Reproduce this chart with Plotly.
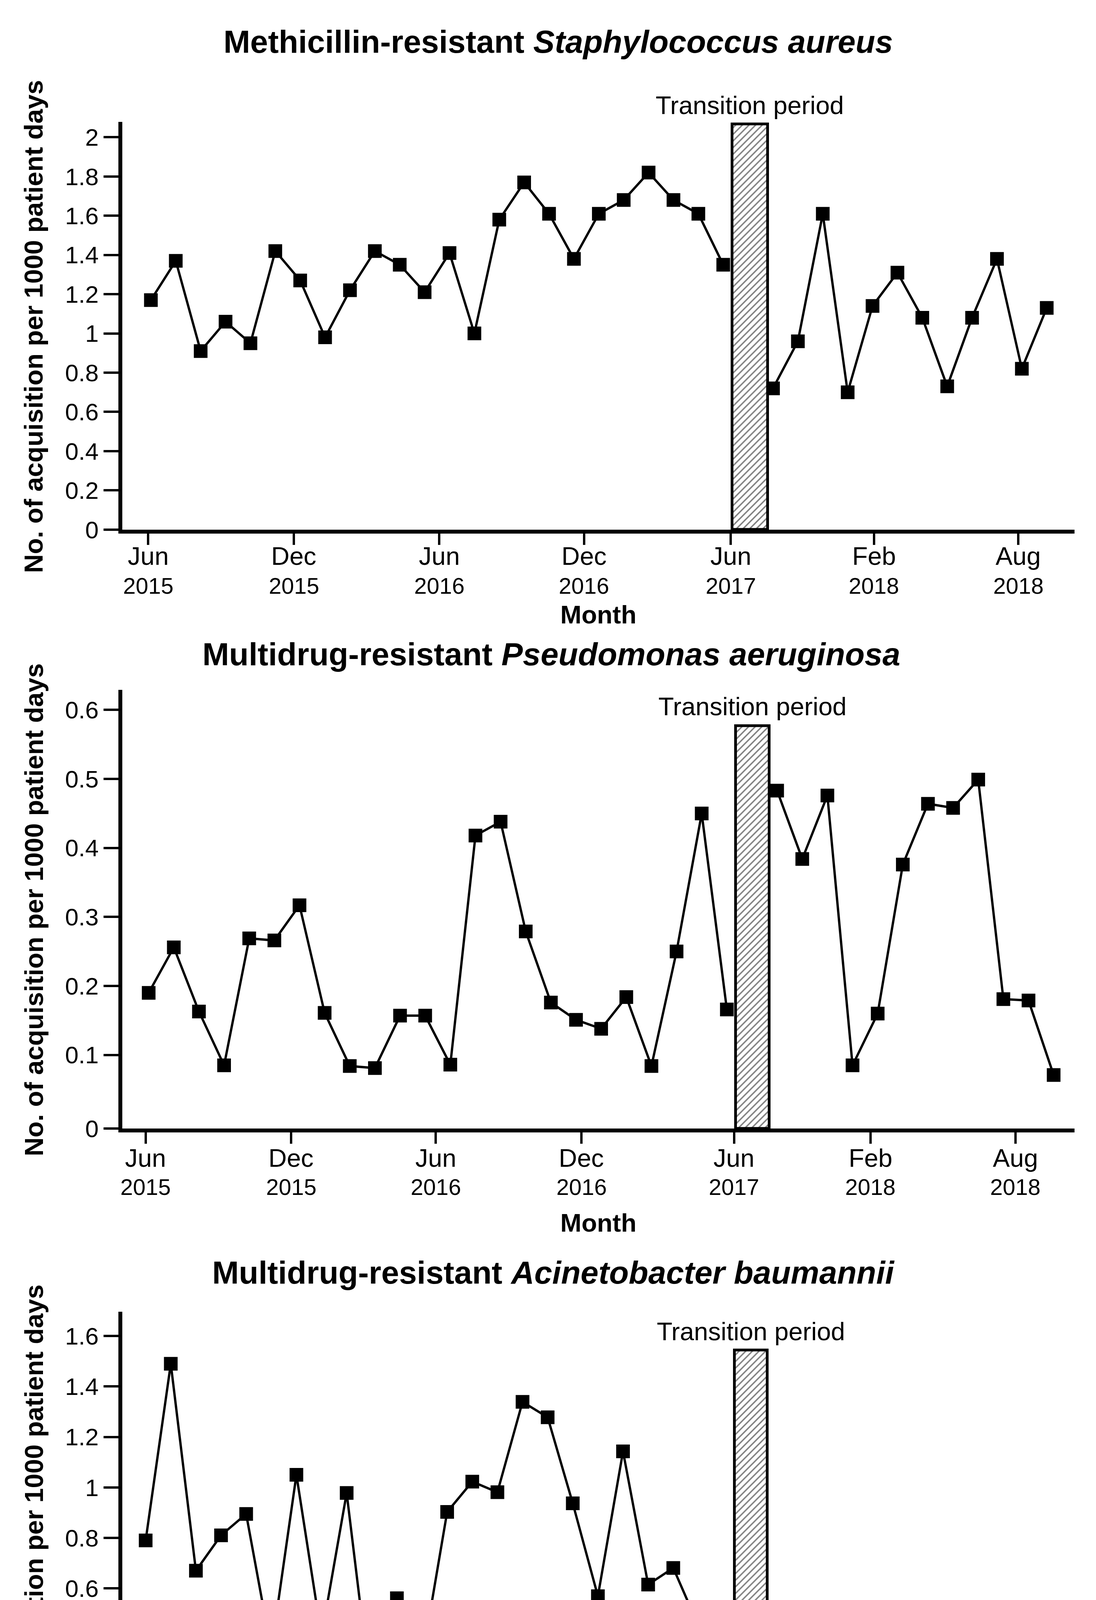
import plotly.graph_objects as go

# ---------------- data ----------------
PRE_MONTH_INDEX = list(range(0, 24))     # Jun 2015 .. May 2017
POST_MONTH_INDEX = list(range(25, 37))   # after the transition period

TICK_MONTHS = ["Jun", "Dec", "Jun", "Dec", "Jun", "Feb", "Aug"]
TICK_YEARS = ["2015", "2015", "2016", "2016", "2017", "2018", "2018"]

MRSA_PRE = [1.17, 1.37, 0.91, 1.06, 0.95, 1.42, 1.27, 0.98, 1.22, 1.42, 1.35, 1.21,
            1.41, 1.00, 1.58, 1.77, 1.61, 1.38, 1.61, 1.68, 1.82, 1.68, 1.61, 1.35]
MRSA_POST = [0.72, 0.96, 1.61, 0.70, 1.14, 1.31, 1.08, 0.73, 1.08, 1.38, 0.82, 1.13]

PA_PRE = [0.190, 0.256, 0.163, 0.085, 0.269, 0.266, 0.317, 0.161, 0.084, 0.081, 0.157, 0.157,
          0.086, 0.418, 0.438, 0.279, 0.176, 0.151, 0.138, 0.184, 0.084, 0.250, 0.450, 0.166]
PA_POST = [0.483, 0.384, 0.476, 0.085, 0.160, 0.376, 0.464, 0.458, 0.499, 0.181, 0.179, 0.071]

AB_PRE = [0.79, 1.49, 0.67, 0.81, 0.895, 0.354, 1.05, 0.41, 0.978, 0.16, 0.561, 0.317,
          0.903, 1.023, 0.981, 1.339, 1.278, 0.937, 0.569, 1.143, 0.615, 0.681, 0.452, 0.421]
AB_POST = [0.15, 0.08, 0.0, 0.075, 0.068, 0.275, 0.063, 0.27, 0.33, 0.27, 0.083, 0.067]

TITLES = [
    "<b>Methicillin-resistant <i>Staphylococcus aureus</i></b>",
    "<b>Multidrug-resistant <i>Pseudomonas aeruginosa</i></b>",
    "<b>Multidrug-resistant <i>Acinetobacter baumannii</i></b>",
]
Y_TITLE = "<b>No. of acquisition per 1000 patient days</b>"
X_TITLE = "<b>Month</b>"
TRANSITION_LABEL = "Transition period"

Y_TICKS = [
    [0.2, 0.4, 0.6, 0.8, 1.0, 1.2, 1.4, 1.6, 1.8, 2.0],
    [0.1, 0.2, 0.3, 0.4, 0.5, 0.6],
    [0.2, 0.4, 0.6, 0.8, 1.0, 1.2, 1.4, 1.6],
]
Y_TICK_TEXT = [
    ["0.2", "0.4", "0.6", "0.8", "1", "1.2", "1.4", "1.6", "1.8", "2"],
    ["0.1", "0.2", "0.3", "0.4", "0.5", "0.6"],
    ["0.2", "0.4", "0.6", "0.8", "1", "1.2", "1.4", "1.6"],
]

# ---------------- layout geometry (pixels of the 2805x4826 page) ----------------
W, H = 2805, 4826
FONT = "Liberation Sans, Arial, Helvetica, sans-serif"
DY = -3  # small correction for text vertical centring
AXW = 10


def px_x(p):
    return p / W


def px_y(p):
    return 1 - (p + DY) / H


def dom_y(p):
    return 1 - p / H


panels = [
    dict(pre=MRSA_PRE, post=MRSA_POST, yr=[-0.001, 2.079], box=(23.36, 24.79), box_top=2.068,
         xr=[-1.149, 37.116], ydom=(1358, 306),
         xticks=[-0.11, 5.75, 11.59, 17.41, 23.30, 29.06, 34.86],
         title_y=102, trans_y=266, ytitle_y=837, month_y=1580, title_x=1420,
         tick_m_y=1429, tick_y_y=1505, year_size=58),
    dict(pre=PA_PRE, post=PA_POST, yr=[-0.0065, 0.629], box=(23.35, 24.69), box_top=0.577,
         xr=[-1.049, 36.83], ydom=(2902, 1771),
         xticks=[-0.12, 5.67, 11.42, 17.22, 23.29, 28.71, 34.48],
         title_y=1682, trans_y=1817, ytitle_y=2341, month_y=3148, title_x=1403,
         tick_m_y=2981, tick_y_y=3056, year_size=58),
    dict(pre=AB_PRE, post=AB_POST, yr=[-0.044, 1.697], box=(23.44, 24.75), box_top=1.543,
         xr=[-0.930, 36.97], ydom=(4507, 3374),
         xticks=[-0.10, 5.72, 11.50, 17.27, 23.37, 28.77, 34.54],
         title_y=3276, trans_y=3428, ytitle_y=3943, month_y=4740, title_x=1408,
         tick_m_y=4583, tick_y_y=4661, year_size=53),
]

fig = go.Figure()
annotations = []
layout_axes = {}

for i, p in enumerate(panels):
    n = "" if i == 0 else str(i + 1)
    xa, ya = "x" + n, "y" + n
    b0, b1 = p["box"]
    # hatched transition box
    fig.add_trace(go.Bar(
        x=[(b0 + b1) / 2], y=[p["box_top"] - p["yr"][0]], base=[p["yr"][0]], width=[b1 - b0],
        marker=dict(color="white", line=dict(color="black", width=7),
                    pattern=dict(shape="/", size=12, solidity=0.3, fgcolor="black", bgcolor="white")),
        xaxis=xa, yaxis=ya, hoverinfo="skip", showlegend=False))
    for xs, ys in ((PRE_MONTH_INDEX, p["pre"]), (POST_MONTH_INDEX, p["post"])):
        fig.add_trace(go.Scatter(
            x=xs, y=ys, mode="lines+markers",
            line=dict(color="black", width=6),
            marker=dict(symbol="square", size=35, color="black"),
            xaxis=xa, yaxis=ya, showlegend=False))

    layout_axes["xaxis" + n] = dict(
        domain=[px_x(305), px_x(2742)], anchor=ya, range=p["xr"],
        showline=True, linewidth=AXW, linecolor="black", showgrid=False, zeroline=False,
        ticks="outside", ticklen=29, tickwidth=6, tickcolor="black",
        tickvals=p["xticks"], ticktext=[""] * len(p["xticks"]))
    layout_axes["yaxis" + n] = dict(
        domain=[dom_y(p["ydom"][0]), dom_y(p["ydom"][1])], anchor=xa, range=p["yr"],
        showline=True, linewidth=AXW, linecolor="black", showgrid=False, zeroline=False,
        ticks="outside", ticklen=38, tickwidth=6, tickcolor="black",
        tickvals=[p["yr"][0]] + Y_TICKS[i], ticktext=["0"] + Y_TICK_TEXT[i],
        tickfont=dict(family=FONT, size=62, color="black"))

    # two-line month / year tick labels
    for tx, m, yr in zip(p["xticks"], TICK_MONTHS, TICK_YEARS):
        annotations.append(dict(text=m, xref=xa, yref="paper", x=tx, y=px_y(p["tick_m_y"]),
                                xanchor="center", yanchor="middle", showarrow=False,
                                font=dict(family=FONT, size=65, color="black")))
        annotations.append(dict(text=yr, xref=xa, yref="paper", x=tx, y=px_y(p["tick_y_y"]),
                                xanchor="center", yanchor="middle", showarrow=False,
                                font=dict(family=FONT, size=p["year_size"], color="black")))

    annotations += [
        dict(text=TITLES[i], xref="paper", yref="paper", x=px_x(p["title_x"]), y=px_y(p["title_y"]),
             xanchor="center", yanchor="middle", showarrow=False,
             font=dict(family=FONT, size=82, color="black")),
        dict(text=TRANSITION_LABEL, xref=xa, yref="paper", x=(b0 + b1) / 2, y=px_y(p["trans_y"]),
             xanchor="center", yanchor="middle", showarrow=False,
             font=dict(family=FONT, size=65, color="black")),
        dict(text=Y_TITLE, xref="paper", yref="paper", x=px_x(78), y=px_y(p["ytitle_y"]),
             xanchor="center", yanchor="middle", showarrow=False, textangle=-90,
             font=dict(family=FONT, size=67, color="black")),
        dict(text=X_TITLE, xref="paper", yref="paper", x=px_x(1523), y=px_y(p["month_y"]),
             xanchor="center", yanchor="middle", showarrow=False,
             font=dict(family=FONT, size=65, color="black")),
    ]

fig.update_layout(
    width=W, height=H, margin=dict(l=0, r=0, t=0, b=0),
    paper_bgcolor="white", plot_bgcolor="white", showlegend=False,
    bargap=0, annotations=annotations, **layout_axes)

fig.write_html("out.html")
